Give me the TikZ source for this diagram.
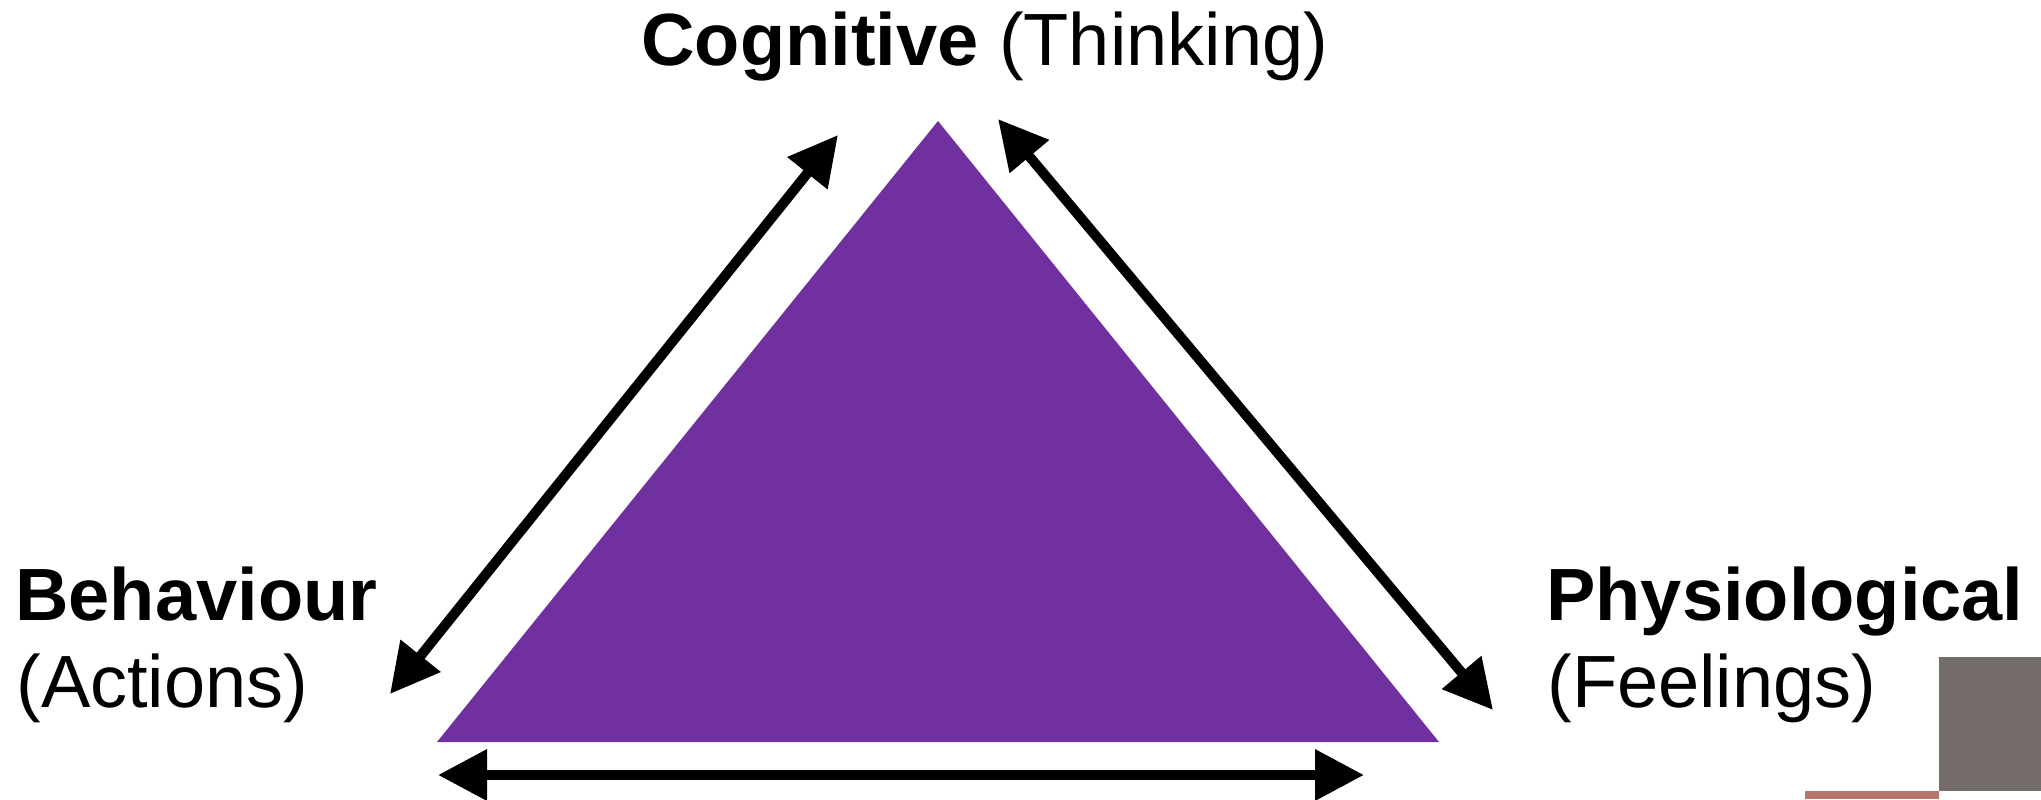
\documentclass[tikz,border=0pt]{standalone}
\usepackage{fontspec}
\setmainfont{Liberation Sans}
\usetikzlibrary{arrows.meta}
\definecolor{triPurple}{HTML}{7030A0}
\definecolor{boxGray}{HTML}{736C68}
\definecolor{boxRose}{HTML}{B5766E}

\begin{document}
\begin{tikzpicture}[x=0.5pt,y=-0.5pt,
    link/.style={line width=5pt,{Triangle[length=24.5pt,width=24.5pt]}-{Triangle[length=24.5pt,width=24.5pt]}},
    lbl/.style={inner sep=0pt,anchor=base west,font=\fontsize{37}{44}\selectfont}]
    \useasboundingbox (0,0) rectangle (2041,799);
    %the triangle
    \fill[triPurple] (938,121) -- (1439,742) -- (437,742) -- cycle;
    %labels at the corners
    \node[lbl] (cog) at (641,65) {\textbf{Cognitive} (Thinking)};
    \node[lbl] (beh) at (15,620) {\textbf{Behaviour}};
    \node[lbl] (act) at (16,707) {(Actions)};
    \node[lbl] (phy) at (1546,620) {\textbf{Physiological}};
    \node[lbl] (fee) at (1547,707) {(Feelings)};
    %arrow end points
    \coordinate (lt) at (838,135);
    \coordinate (lb) at (390,694);
    \coordinate (rt) at (998,119);
    \coordinate (rb) at (1493,710);
    \coordinate (bl) at (438,775);
    \coordinate (br) at (1364,775);
    \draw[link] (lt) -- (lb);
    \draw[link] (rt) -- (rb);
    \draw[link] (bl) -- (br);
    %corner blocks
    \fill[boxGray] (1939,657) rectangle (2041,791);
    \fill[boxRose] (1805,791) rectangle (1939,799);
\end{tikzpicture}
\end{document}
